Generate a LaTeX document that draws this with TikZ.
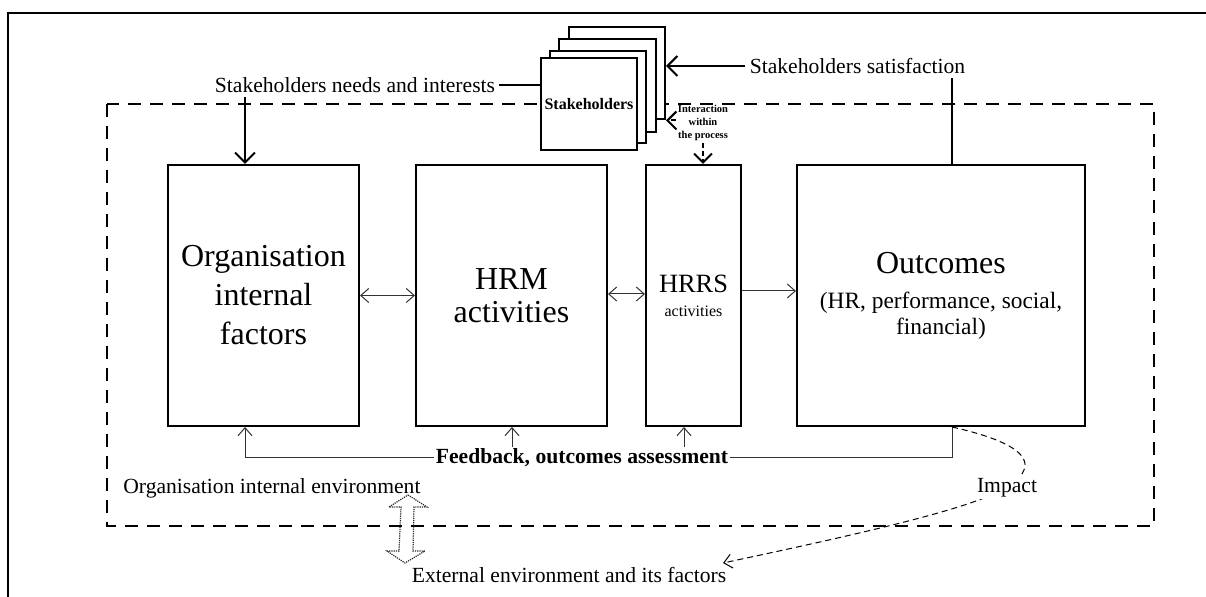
\documentclass[tikz,border=0pt]{standalone}
\usepackage{fontspec}
\setmainfont{Liberation Serif}
\usetikzlibrary{arrows.meta}
\begin{document}
\begin{tikzpicture}[x=0.5pt,y=-0.5pt,
  frameline/.style={line width=1.2pt},
  envbox/.style={line width=1pt, dash pattern=on 6.5pt off 4.5pt},
  mainbox/.style={draw, line width=1pt, fill=white, inner sep=0pt, align=center},
  stkbox/.style={draw, line width=1pt, fill=white, minimum width=48pt, minimum height=46pt, inner sep=0pt},
  lbl/.style={font=\fontsize{10.8}{13}\selectfont, inner sep=2pt},
  bigarr/.style={line width=1pt, -{Straight Barb[length=5pt,width=10pt]}},
  dotarr/.style={line width=1pt, dash pattern=on 2.5pt off 1.5pt, -{Straight Barb[length=4.5pt,width=9pt]}},
  thinline/.style={line width=0.5pt, draw=black!80},
  thinarr/.style={thinline, -{Straight Barb[length=4pt,width=7pt]}},
  thinboth/.style={thinline, {Straight Barb[length=4pt,width=7pt]}-{Straight Barb[length=4pt,width=7pt]}},
  impactarr/.style={line width=0.5pt, dash pattern=on 3pt off 2pt, -{Straight Barb[length=4pt,width=7pt]}},
  hollowarr/.style={line width=0.6pt, draw=black!85, dash pattern=on 0.6pt off 0.5pt}
]
\useasboundingbox (0,0) rectangle (1206,597);

% outer frame
\draw[frameline] (8,597) -- (8,13) -- (1206,13);

% organisation internal environment
\draw[envbox] (107,104) rectangle (1154,526);

% column positions of the vertical connectors
\coordinate (fx1) at (245,0);
\coordinate (fx2) at (512,0);
\coordinate (fx3) at (684,0);
\coordinate (fx4) at (952,0);

% stack of stakeholders
\node[stkbox] (s4) at (617,73.5) {};
\node[stkbox, minimum width=48.5pt, minimum height=46.5pt] (s3) at (607.5,85.5) {};
\node[stkbox] (s2) at (598,97) {};
\node[stkbox, font=\fontsize{8}{9}\selectfont\bfseries] (s1) at (589,104) {Stakeholders};

% main process boxes
\node[mainbox, minimum width=95.5pt, minimum height=130.5pt,
      font=\fontsize{16}{19.5}\selectfont] (b1) at (263.5,295.5)
  {Organisation\\internal\\factors};
\node[mainbox, minimum width=95.5pt, minimum height=130.5pt,
      font=\fontsize{16}{16.5}\selectfont] (b2) at (511.5,295.5)
  {HRM\\activities};
\node[mainbox, minimum width=47.5pt, minimum height=130.5pt,
      font=\fontsize{8}{12}\selectfont] (b3) at (693.5,295.5)
  {{\fontsize{13.2}{12}\selectfont HRRS}\\activities};
\node[mainbox, minimum width=144pt, minimum height=130.5pt,
      font=\fontsize{11.7}{13}\selectfont] (b4) at (941,295.5)
  {{\fontsize{16}{13}\selectfont Outcomes}\\[4.5pt](HR, performance, social,\\financial)};

% links between the boxes
\draw[thinboth] (b1.east) -- (b2.west);
\draw[thinboth] ([yshift=0.75pt]b2.east) -- ([yshift=0.75pt]b3.west);
\draw[thinarr] ([yshift=2.25pt]b3.east) -- ([yshift=2.25pt]b4.west);

% stakeholder needs
\node[lbl] (needs) at (355,85) {Stakeholders needs and interests};
\draw[line width=1pt] (needs.east) -- (needs.east -| s1.west);
\draw[bigarr] (needs.south -| fx1) -- (b1.north -| fx1);

% stakeholder satisfaction
\node[lbl] (sat) at (857.5,66) {Stakeholders satisfaction};
\draw[bigarr] (sat.west) -- (sat.west -| s4.east);
\draw[line width=1pt] (sat.south -| fx4) -- (b4.north -| fx4);

% interaction within the process
\node[font=\fontsize{5.25}{6.5}\selectfont\bfseries, align=center, inner sep=1pt]
  (inter) at (703,123) {Interaction\\within\\the process};
\draw[dotarr] (inter.west |- s4.south) -- (s4.south east);
\draw[dotarr] (inter.south) -- (inter.south |- b3.north);

% feedback loop
\coordinate (fb) at (582,458);
\draw[thinarr] (b4.south -| fx4) -- (fx4 |- fb) -- (fx1 |- fb) -- (b1.south -| fx1);
\draw[thinarr] (fx2 |- fb) -- (b2.south -| fx2);
\draw[thinarr] (fx3 |- fb) -- (b3.south -| fx3);
\node[font=\fontsize{10.8}{13}\selectfont\bfseries, fill=white, inner sep=1pt]
  (fbt) at (fb) {Feedback, outcomes assessment};

% environments
\node[lbl, anchor=west] (inenv) at (119,488) {Organisation internal environment};
\node[lbl] (ext) at (569,575) {External environment and its factors};

% exchange between internal and external environment
\draw[hollowarr] (408,495) -- (427,507) -- (414,507) -- (413,551) -- (425,551)
  -- (405,563) -- (387,551) -- (399,551) -- (401,507) -- (389,507) -- cycle;

% impact on the external environment
\coordinate (impend) at (723,563);
\draw[impactarr] (b4.south -| fx4) .. controls (1010,440) and (1030,455) .. (1024,470)
  .. controls (1015,495) and (950,515) .. (impend);
\node[lbl, fill=white, inner sep=1pt] (impact) at (1007,488) {Impact};
\end{tikzpicture}
\end{document}
